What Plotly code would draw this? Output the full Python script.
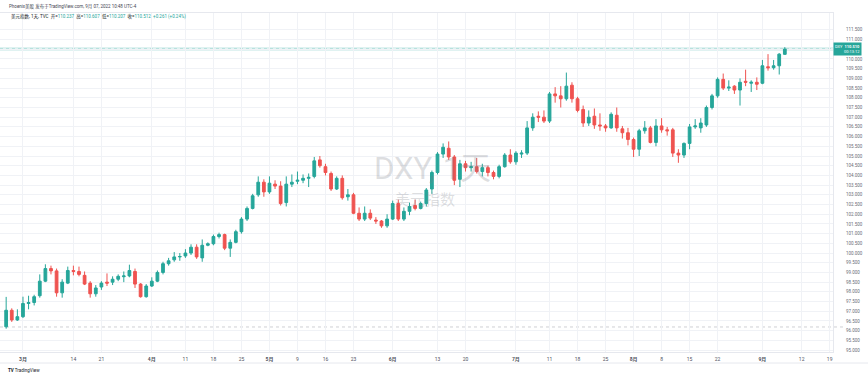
import pandas as pd
import plotly.graph_objects as go

# ---------------- data (DXY daily, 2022-02-24 .. 2022-09-07) ----------------
start_date = "2022-02-24"
end_date = "2022-09-07"

open_ = [
    # Feb
    96.20, 97.05, 96.55,
    # Mar
    96.72, 97.40, 97.45, 97.80, 98.55, 99.20, 99.08, 97.95, 98.45, 99.10, 99.05, 98.85,
    98.45, 97.90, 98.25, 98.50, 98.50, 98.65, 98.78, 98.82, 99.05, 98.40, 97.75,
    # Apr
    98.30, 98.55, 99.00, 99.45, 99.65, 99.80, 99.85, 100.00, 100.30, 99.75, 100.40,
    100.48, 100.85, 100.95, 100.25, 100.55, 101.10, 101.75, 102.30, 103.00, 103.65,
    # May
    103.15, 103.55, 103.45, 102.60, 103.55, 103.70, 103.75, 103.85, 103.95, 104.80,
    104.45, 104.10, 103.30, 103.85, 102.90, 103.00, 102.05, 101.75, 102.05, 101.70,
    101.65, 101.40,
    # Jun
    101.75, 102.55, 101.75, 102.15, 102.45, 102.30, 102.55, 103.30, 104.15, 105.10,
    105.40, 104.95, 103.80, 104.60, 104.40, 104.45, 104.20, 104.40, 104.15, 103.95,
    104.45, 105.05,
    # Jul
    104.70, 105.10, 105.15, 106.45, 107.05, 107.00, 106.80, 108.20, 108.10, 107.95,
    108.65, 107.95, 107.40, 106.70, 107.05, 106.60, 106.55, 106.45, 107.10, 106.40,
    106.20,
    # Aug
    105.85, 105.35, 106.30, 106.45, 105.70, 106.55, 106.35, 106.35, 105.15, 105.05,
    105.65, 106.50, 106.45, 106.60, 107.50, 108.10, 108.95, 108.50, 108.60, 108.40,
    108.85, 108.75, 108.80,
    # Sep
    108.75, 109.60, 109.55, 109.65, 110.24,
]

high = [
    97.74, 97.15, 97.10,
    97.75, 97.80, 97.85, 98.90, 99.42, 99.35, 99.20, 98.65, 99.30, 99.35, 99.30, 99.05,
    98.55, 98.35, 98.55, 98.95, 98.80, 98.90, 99.05, 99.40, 99.20, 98.45, 98.40,
    98.75, 99.10, 99.55, 99.75, 100.05, 100.00, 100.20, 100.45, 100.45, 100.70, 100.55,
    100.95, 101.05, 101.00, 100.70, 101.20, 101.85, 102.40, 103.05, 103.95, 103.80,
    103.95, 103.75, 103.70, 103.95, 104.05, 104.20, 104.05, 104.10, 104.95, 105.00,
    104.60, 104.20, 103.95, 104.00, 103.30, 103.10, 102.35, 102.40, 102.25, 101.85,
    101.70, 102.00,
    102.70, 102.75, 102.35, 102.60, 102.75, 102.65, 103.35, 104.25, 105.20, 105.65,
    105.75, 105.05, 104.80, 104.75, 104.70, 104.90, 104.60, 104.50, 104.25, 104.55,
    105.15, 105.35,
    105.25, 105.30, 106.80, 107.20, 107.30, 107.35, 108.30, 108.55, 108.60, 109.30,
    108.80, 108.05, 107.60, 107.35, 107.45, 107.20, 106.65, 107.25, 107.50, 106.55,
    106.45,
    105.95, 106.40, 106.80, 106.55, 106.90, 106.95, 106.50, 106.45, 105.35, 105.70,
    106.65, 106.90, 106.95, 107.60, 108.20, 109.05, 109.25, 108.90, 108.65, 109.00,
    109.45, 108.90, 109.05,
    109.95, 110.25, 109.95, 110.30, 110.61,
]

low = [
    96.10, 96.45, 96.50,
    96.65, 97.10, 97.30, 97.70, 98.50, 98.90, 97.75, 97.70, 98.40, 98.85, 98.80, 98.35,
    97.70, 97.75, 98.10, 98.30, 98.35, 98.55, 98.50, 98.75, 98.20, 97.70, 97.70,
    98.25, 98.50, 98.90, 99.35, 99.55, 99.60, 99.75, 99.90, 99.70, 99.55, 100.35,
    100.40, 100.75, 100.15, 99.80, 100.50, 101.00, 101.65, 102.25, 102.90, 102.90,
    103.05, 103.30, 102.45, 102.40, 103.40, 103.55, 103.60, 103.40, 103.85, 104.40,
    104.00, 103.20, 103.25, 102.75, 102.70, 102.00, 101.65, 101.65, 101.70, 101.50,
    101.30, 101.30,
    101.70, 101.65, 101.65, 101.95, 102.20, 102.25, 102.40, 103.05, 104.05, 104.90,
    104.80, 103.50, 103.40, 104.20, 104.20, 104.10, 103.95, 103.95, 103.80, 103.85,
    104.40, 104.60,
    104.55, 104.90, 105.05, 106.30, 106.75, 106.70, 106.70, 107.75, 107.50, 107.85,
    107.75, 107.25, 106.50, 106.55, 106.40, 106.30, 106.25, 106.40, 106.25, 105.90,
    105.55,
    104.95, 105.00, 106.15, 105.65, 105.50, 106.20, 106.05, 104.95, 104.65, 104.90,
    105.35, 106.40, 106.20, 106.50, 107.40, 108.00, 108.40, 108.35, 108.20, 107.60,
    108.60, 108.30, 108.40,
    108.70, 109.40, 109.45, 109.20, 110.21,
]

close = [
    97.05, 96.55, 96.72,
    97.40, 97.45, 97.75, 98.55, 99.20, 99.08, 97.95, 98.50, 99.10, 99.05, 98.90, 98.40,
    97.90, 98.20, 98.45, 98.45, 98.65, 98.80, 98.82, 99.10, 98.40, 97.75, 98.30,
    98.55, 99.00, 99.45, 99.60, 99.80, 99.82, 100.00, 100.30, 99.80, 100.40, 100.48,
    100.85, 100.95, 100.25, 100.55, 101.10, 101.75, 102.30, 102.95, 103.65, 103.15,
    103.60, 103.45, 102.55, 103.55, 103.65, 103.75, 103.85, 103.90, 104.75, 104.50,
    104.15, 103.30, 103.85, 102.85, 103.00, 102.05, 101.75, 102.05, 101.80, 101.65,
    101.40, 101.75,
    102.55, 101.75, 102.15, 102.40, 102.30, 102.55, 103.25, 104.15, 105.10, 105.45,
    104.95, 103.75, 104.60, 104.40, 104.45, 104.20, 104.40, 104.15, 103.95, 104.45,
    105.05, 104.70,
    105.15, 105.15, 106.45, 107.00, 107.00, 106.80, 108.20, 108.10, 107.95, 108.60,
    107.95, 107.35, 106.70, 107.00, 106.60, 106.55, 106.45, 107.15, 106.45, 106.20,
    105.85,
    105.35, 106.30, 106.45, 105.70, 106.55, 106.35, 106.30, 105.15, 105.05, 105.65,
    106.50, 106.55, 106.70, 107.50, 108.10, 108.95, 108.50, 108.55, 108.40, 108.80,
    108.80, 108.80, 108.70,
    109.65, 109.55, 109.65, 110.25, 110.51,
]

tick_dates = ["2022-03-01", "2022-03-14", "2022-03-21", "2022-04-01", "2022-04-11",
              "2022-04-18", "2022-04-25", "2022-05-02", "2022-05-09", "2022-05-16",
              "2022-05-23", "2022-06-01", "2022-06-13", "2022-06-20", "2022-07-01",
              "2022-07-11", "2022-07-18", "2022-07-25", "2022-08-01", "2022-08-08",
              "2022-08-15", "2022-08-22", "2022-09-01", "2022-09-12", "2022-09-19"]
tick_text = ["3月", "14", "21", "4月", "11", "18", "25", "5月", "9", "16", "23",
             "6月", "13", "20", "7月", "11", "18", "25", "8月", "8", "15", "22",
             "9月", "12", "19"]

price_ticks = [95.0 + 0.5 * i for i in range(34)]
last_price = 110.51
ref_line_price = 96.19

dates = pd.bdate_range(start_date, end_date)
assert len(dates) == len(open_) == len(high) == len(low) == len(close)

# ---------------- styling ----------------
W, H = 868, 375
ML, MR, MT, MB = 0, 35, 13, 23
PW, PH = W - ML - MR, H - MT - MB
UP, DOWN = "#26a69a", "#ef5350"
GRID = "#f0f2f6"
TXT = "#6a6d78"
FONT = "Roboto, 'Noto Sans CJK SC', sans-serif"


def px_x(px):
    return (px - ML) / PW


def px_y(py):
    return 1 - (py - MT) / PH


# price label box hides the tick label it covers
price_ticktext = ["" if abs(v - last_price) < 0.25 else f"{v:.3f}" for v in price_ticks]

fig = go.Figure()
fig.add_trace(go.Candlestick(
    x=dates, open=open_, high=high, low=low, close=close,
    increasing=dict(line=dict(color=UP, width=1), fillcolor=UP),
    decreasing=dict(line=dict(color=DOWN, width=1), fillcolor=DOWN),
    whiskerwidth=0, showlegend=False, hoverinfo="skip",
))

fig.update_layout(
    width=W, height=H,
    margin=dict(l=ML, r=MR, t=MT, b=MB),
    paper_bgcolor="white", plot_bgcolor="white",
    font=dict(family=FONT, size=5, color=TXT),
    showlegend=False,
    xaxis=dict(
        type="date",
        rangebreaks=[dict(bounds=["sat", "mon"])],
        range=["2022-02-22 21:36", "2022-09-19 14:24"],
        rangeslider=dict(visible=False),
        tickmode="array", tickvals=tick_dates,
        ticktext=[f"<b>{t}</b>" if "月" in t else t for t in tick_text],
        tickfont=dict(size=5, color="#50535e"),
        showgrid=True, gridcolor=GRID, gridwidth=1,
        ticks="", ticklabelstandoff=2,
        showline=True, linecolor="#e6e8ee", linewidth=1, mirror=True,
        zeroline=False,
    ),
    yaxis=dict(
        side="right",
        range=[94.90, 112.37],
        tickmode="array", tickvals=price_ticks, ticktext=price_ticktext,
        tickfont=dict(size=4.5, color=TXT),
        showgrid=True, gridcolor=GRID, gridwidth=1,
        ticks="", ticklabelstandoff=11,
        showline=True, linecolor="#e6e8ee", linewidth=1, mirror=True,
        zeroline=False,
    ),
)

shapes = [
    # current price highlight + dotted line
    dict(type="line", xref="paper", yref="y", x0=0, x1=1, y0=last_price, y1=last_price,
         line=dict(color="rgba(38,166,154,0.14)", width=4), layer="below"),
    dict(type="line", xref="paper", yref="y", x0=0, x1=1, y0=last_price, y1=last_price,
         line=dict(color="rgba(38,166,154,0.5)", width=1, dash="dot"), layer="below"),
    # grey dotted reference line
    dict(type="line", xref="paper", yref="y", x0=0, x1=1.012, y0=ref_line_price, y1=ref_line_price,
         line=dict(color="rgba(120,123,134,0.35)", width=1, dash="dot"), layer="below"),
    # bottom border of time scale
    dict(type="line", xref="paper", yref="paper", x0=0, x1=W / PW, y0=px_y(363), y1=px_y(363),
         line=dict(color="#e6e8ee", width=1)),
]
fig.update_layout(shapes=shapes)

ann = []
# header line 1
ann.append(dict(xref="paper", yref="paper", x=px_x(7), y=px_y(7), xanchor="left", yanchor="middle",
                text="Phoenix美股 发布于TradingView.com, 9月 07, 2022 10:48 UTC-4",
                showarrow=False, font=dict(size=4.5, color="#434651")))
# header line 2 (legend)
c = UP
ann.append(dict(xref="paper", yref="paper", x=px_x(9), y=px_y(17), xanchor="left", yanchor="middle",
                text=("美元指数, 1天, TVC  "
                      f"开=<span style='color:{c}'>110.237</span>  "
                      f"高=<span style='color:{c}'>110.607</span>  "
                      f"低=<span style='color:{c}'>110.207</span>  "
                      f"收=<span style='color:{c}'>110.512</span>  "
                      f"<span style='color:{c}'>+0.261 (+0.24%)</span>"),
                showarrow=False, font=dict(size=4.5, color="#131722")))
# watermark
ann.append(dict(xref="paper", yref="paper", x=px_x(432), y=px_y(168), xanchor="center", yanchor="middle",
                text="DXY, 1天", showarrow=False,
                font=dict(size=31, color="rgba(120,123,134,0.25)", family=FONT)))
ann.append(dict(xref="paper", yref="paper", x=px_x(425), y=px_y(200), xanchor="center", yanchor="middle",
                text="美元指数", showarrow=False,
                font=dict(size=15, color="rgba(120,123,134,0.25)", family=FONT)))
# last price label
ann.append(dict(xref="paper", yref="y", x=1.0, y=last_price, xanchor="left", yanchor="middle",
                text="DXY  <b>110.510</b><br>       00:13:12", showarrow=False, align="right",
                bgcolor=UP, borderpad=1,
                font=dict(size=4, color="white")))
# TradingView logo text
ann.append(dict(xref="paper", yref="paper", x=px_x(6), y=px_y(370), xanchor="left", yanchor="middle",
                text="<b>TV</b> TradingView", showarrow=False,
                font=dict(size=4.5, color="#131722")))
fig.update_layout(annotations=ann)

fig.write_html("out.html")
